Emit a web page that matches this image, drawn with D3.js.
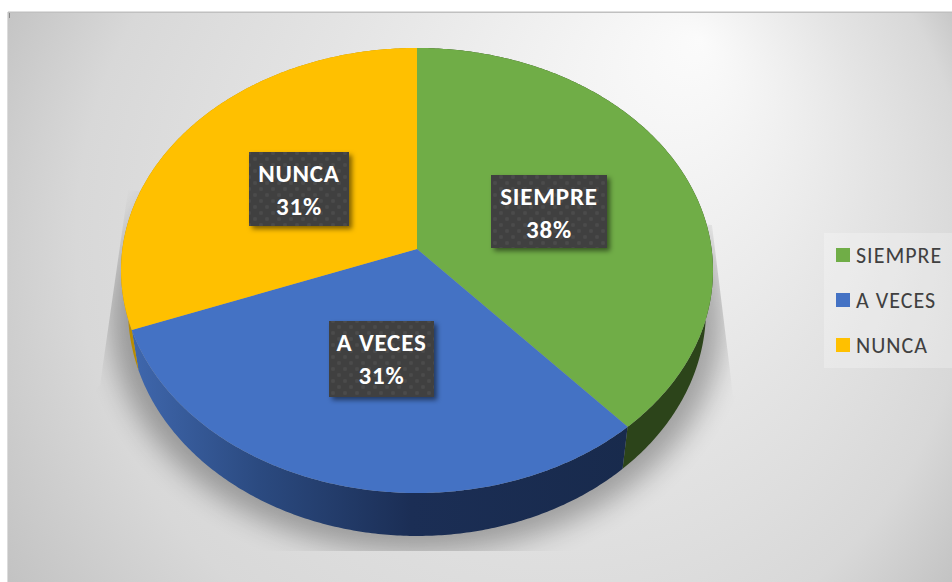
<!DOCTYPE html>
<html><head><meta charset="utf-8">
<script src="https://cdn.jsdelivr.net/npm/d3@7"></script>
<style>html,body{margin:0;padding:0;background:#fff}svg{display:block}</style></head>
<body><svg id="c" width="952" height="582"></svg>
<script>
const categories = ["SIEMPRE", "A VECES", "NUNCA"];
const values = [5, 4, 4];
const percentLabels = ["38%", "31%", "31%"];
const topColors = ["#70ad47", "#4472c4", "#ffc000"];
const sideColors = ["#2c441a", "url(#blueSide)", "#b98c00"];

const svg = d3.select("#c");
const defs = svg.append("defs");

const bg = defs.append("radialGradient").attr("id","bg").attr("gradientUnits","userSpaceOnUse")
  .attr("cx",480).attr("cy",290).attr("r",560).attr("fx",700).attr("fy",40);
[[0,"#fbfbfb"],[0.5,"#e4e4e4"],[0.8,"#d8d8d8"],[1,"#c2c2c2"]].forEach(s=>bg.append("stop").attr("offset",s[0]).attr("stop-color",s[1]));

const bs = defs.append("linearGradient").attr("id","blueSide").attr("gradientUnits","userSpaceOnUse")
  .attr("x1",132).attr("x2",640).attr("y1",0).attr("y2",0);
[[0,"#3f67ad"],[0.25,"#2b4a80"],[0.55,"#1b2e55"],[1,"#182a4c"]].forEach(s=>bs.append("stop").attr("offset",s[0]).attr("stop-color",s[1]));

defs.append("filter").attr("id","blur").attr("x","-20%").attr("y","-20%").attr("width","140%").attr("height","140%")
  .append("feGaussianBlur").attr("stdDeviation",14);
const ds = defs.append("filter").attr("id","lblShadow").attr("x","-20%").attr("y","-20%").attr("width","140%").attr("height","140%");
ds.append("feDropShadow").attr("dx",3).attr("dy",3).attr("stdDeviation",2.5).attr("flood-color","#000").attr("flood-opacity",0.5);
const pat = defs.append("pattern").attr("id","dots").attr("patternUnits","userSpaceOnUse").attr("width",12).attr("height",12);
pat.append("rect").attr("width",12).attr("height",12).attr("fill","#404040");
pat.append("circle").attr("cx",3).attr("cy",3).attr("r",2).attr("fill","#4b4b4b");
pat.append("circle").attr("cx",9).attr("cy",9).attr("r",2).attr("fill","#4b4b4b");
const flare = [[128,190],[100,385],[60,420],[60,551],[800,551],[800,420],[733,395],[712,225]];
defs.append("clipPath").attr("id","shClip").append("polygon").attr("points",flare.join(" "));

// plot frame
svg.append("rect").attr("x",8).attr("y",12).attr("width",944).attr("height",570).attr("fill","url(#bg)");
svg.append("rect").attr("x",8).attr("y",11.5).attr("width",944).attr("height",1.5).attr("fill","#c0c0c0");
svg.append("rect").attr("x",7).attr("y",12).attr("width",1).attr("height",570).attr("fill","#dcdcdc");
svg.append("rect").attr("x",9).attr("y",13).attr("width",1).attr("height",5).attr("fill","#888");

// projection of the tilted disc
const cx = 417, k = 0.0966;
const sTop = d3.scaleLinear().domain([0,1]).range([249, 445.4]);
const sBot = d3.scaleLinear().domain([0,1]).range([288.2, 484.2]);
const proj = (ang, c, ys) => {
  const u = Math.sin(ang), v = -Math.cos(ang), w = 1 - k*v;
  return [cx + c*u/w, ys(v)/w];
};
const topPt = a => proj(a, 294.6, sTop);
const botPt = a => proj(a, 287.6, sBot);
const line = d3.line();
const range = (a0,a1) => { const n = Math.max(2,Math.ceil((a1-a0)/0.01)); return d3.range(n+1).map(i=>a0+(a1-a0)*i/n); };

const arcs = d3.pie().sort(null).value(d=>d)(values);

// ground shadow
svg.append("g").attr("clip-path","url(#shClip)")
  .append("ellipse").attr("cx",417).attr("cy",318).attr("rx",306).attr("ry",234)
  .attr("fill","#000").attr("opacity",0.3).attr("filter","url(#blur)");

// sides
svg.append("g").selectAll("path").data(arcs).join("path")
  .attr("d",d=>{
    const r = range(d.startAngle,d.endAngle);
    return line(r.map(topPt).concat(r.slice().reverse().map(botPt)))+"Z";
  })
  .attr("fill",(d,i)=>sideColors[i]);

// top faces
svg.append("g").selectAll("path").data(arcs).join("path")
  .attr("d",d=>line([[cx,sTop(0)]].concat(range(d.startAngle,d.endAngle).map(topPt)))+"Z")
  .attr("fill",(d,i)=>topColors[i]);

// data labels
const boxes = [[491,175,116,73],[329,321,105,76],[249,152,100,74]];
const lbl = svg.append("g").selectAll("g").data(categories).join("g");
lbl.append("rect").attr("x",(d,i)=>boxes[i][0]).attr("y",(d,i)=>boxes[i][1])
  .attr("width",(d,i)=>boxes[i][2]).attr("height",(d,i)=>boxes[i][3])
  .attr("fill","url(#dots)").attr("filter","url(#lblShadow)");
const font = "Carlito, Calibri, Lato, sans-serif";
lbl.append("text").attr("x",(d,i)=>boxes[i][0]+boxes[i][2]/2).attr("y",(d,i)=>boxes[i][1]+30)
  .attr("text-anchor","middle").attr("font-family",font).attr("font-weight",700).attr("font-size",25).attr("letter-spacing",0.8).attr("fill","#fff").text(d=>d);
lbl.append("text").attr("x",(d,i)=>boxes[i][0]+boxes[i][2]/2).attr("y",(d,i)=>boxes[i][1]+63)
  .attr("text-anchor","middle").attr("font-family",font).attr("font-weight",700).attr("font-size",25).attr("letter-spacing",0.8).attr("fill","#fff").text((d,i)=>percentLabels[i]);

// legend
svg.append("rect").attr("x",824).attr("y",233).attr("width",128).attr("height",135).attr("fill","#fff").attr("opacity",0.25);
const leg = svg.append("g").selectAll("g").data(categories).join("g");
const legY = d3.scalePoint().domain(categories).range([255,345]);
leg.append("rect").attr("x",836).attr("y",d=>legY(d)-7).attr("width",14).attr("height",14).attr("fill",(d,i)=>topColors[i]);
leg.append("text").attr("x",856).attr("y",d=>legY(d)+7.5).attr("font-family",font).attr("font-size",22).attr("letter-spacing",1).attr("fill","#404040").text(d=>d);
</script></body></html>
